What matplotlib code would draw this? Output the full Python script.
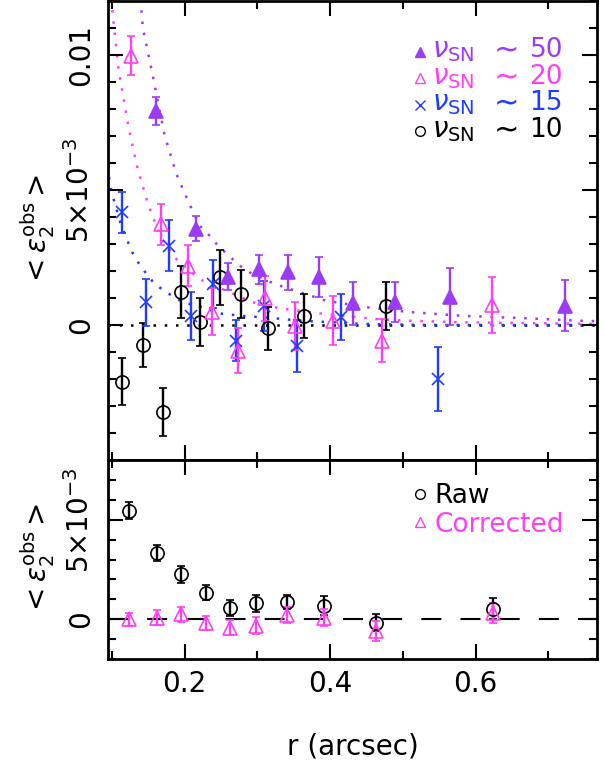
import matplotlib
matplotlib.use('Agg')
import matplotlib.pyplot as plt

plt.rcParams['font.family'] = ['DejaVu Sans']
plt.rcParams['mathtext.fontset'] = 'dejavusans'

PURPLE = '#9b3cf4'
MAGENTA = '#ff40f2'
BLUE = '#1f3cff'

# top panel, binned <e2> for four S/N cuts
r50 = [0.160, 0.216, 0.260, 0.302, 0.342, 0.384, 0.432, 0.489, 0.565, 0.723]
e50 = [0.00793, 0.00356, 0.00179, 0.00207, 0.00195, 0.00177, 0.00080, 0.00086, 0.00105, 0.00071]
err50 = [0.00052, 0.00046, 0.00049, 0.00054, 0.00065, 0.00074, 0.00079, 0.00075, 0.00105, 0.00094]

r20 = [0.126, 0.167, 0.204, 0.238, 0.273, 0.311, 0.352, 0.404, 0.472, 0.622]
e20 = [0.00997, 0.00374, 0.00220, 0.00049, -0.00095, 0.00099, -0.00002, 0.00016, -0.00058, 0.00074]
err20 = [0.00072, 0.00076, 0.00077, 0.00087, 0.00083, 0.00083, 0.00089, 0.00090, 0.00080, 0.00102]

r15 = [0.114, 0.147, 0.178, 0.208, 0.239, 0.271, 0.309, 0.354, 0.415, 0.549]
e15 = [0.00417, 0.00084, 0.00294, 0.00034, 0.00152, -0.00058, 0.00071, -0.00077, 0.00028, -0.00200]
err15 = [0.00076, 0.00086, 0.00095, 0.00089, 0.00089, 0.00075, 0.00093, 0.00096, 0.00085, 0.00117]

r10 = [0.114, 0.143, 0.170, 0.195, 0.221, 0.248, 0.278, 0.314, 0.364, 0.477]
e10 = [-0.00210, -0.00073, -0.00323, 0.00123, 0.00012, 0.00177, 0.00115, -0.00012, 0.00034, 0.00071]
err10 = [0.00088, 0.00082, 0.00088, 0.00096, 0.00088, 0.00102, 0.00088, 0.00080, 0.00082, 0.00088]

# model curves (dotted)
m50_r = [0.139, 0.1427, 0.1542, 0.1725, 0.1886, 0.2045, 0.2206, 0.2343, 0.2457, 0.2755, 0.2893,
         0.3236, 0.3946, 0.4495, 0.5091, 0.582, 0.66, 0.7424, 0.767]
m50_e = [0.01207, 0.01096, 0.00948, 0.00701, 0.00559, 0.0046, 0.00368, 0.00331, 0.00294, 0.0022, 0.00195,
         0.00152, 0.0009, 0.00066, 0.00048, 0.00034, 0.00026, 0.00016, 0.00014]
m20_r = [0.0985, 0.1007, 0.109, 0.1221, 0.1336, 0.1441, 0.1496, 0.168, 0.1886, 0.2092, 0.2251, 0.2938,
         0.3305, 0.3854, 0.4419, 0.4625, 0.509, 0.582, 0.674, 0.767]
m20_e = [0.0121, 0.01158, 0.00948, 0.00744, 0.00596, 0.00497, 0.00448, 0.00319, 0.00244, 0.00195, 0.00164,
         0.00084, 0.00062, 0.00043, 0.00028, 0.00022, 0.00016, 0.0001, 0.00007, 0.00004]
m15_r = [0.0945, 0.097, 0.1015, 0.112, 0.1268, 0.1359, 0.1474, 0.1588, 0.1749, 0.1977, 0.2251, 0.2466,
         0.2855, 0.3122, 0.358, 0.4037, 0.444, 0.536, 0.767]
m15_e = [0.0059, 0.00522, 0.00473, 0.00374, 0.00275, 0.00232, 0.00189, 0.00152, 0.00121, 0.00084, 0.00066,
         0.00043, 0.00032, 0.00028, 0.00016, 0.0001, 0.00004, 0.0, 0.0]

# bottom panel, raw vs corrected
rb = [0.1235, 0.162, 0.1955, 0.2288, 0.2628, 0.2985, 0.3405, 0.391, 0.4633, 0.6235]
raw = [0.00545, 0.00333, 0.00225, 0.00133, 0.00058, 0.00080, 0.00087, 0.00067, -0.00017, 0.00053]
raw_err = [0.00043, 0.00042, 0.00043, 0.00039, 0.00040, 0.00043, 0.00036, 0.00048, 0.00042, 0.00054]
corr = [0.0, 0.00008, 0.00025, -0.00017, -0.00042, -0.00033, 0.00020, 0.00008, -0.00058, 0.00033]
corr_err = [0.00032, 0.00039, 0.00037, 0.00035, 0.00036, 0.00042, 0.00039, 0.00042, 0.00050, 0.00050]

fig = plt.figure(figsize=(6.05, 7.63), dpi=100)
ax1 = fig.add_axes([0.1785, 0.3971, 0.8083, 0.6016])
ax2 = fig.add_axes([0.1785, 0.1363, 0.8083, 0.2608])

dots = (0, (1, 3.5))
eb = dict(linestyle='none', capsize=3, elinewidth=1.7, capthick=1.7)

ax1.axhline(0, color='black', lw=1.8, ls=dots, zorder=1)
ax1.plot(m15_r, m15_e, color=BLUE, lw=1.8, ls=dots, zorder=1)
ax1.plot(m20_r, m20_e, color=MAGENTA, lw=1.8, ls=dots, zorder=1)
ax1.plot(m50_r, m50_e, color=PURPLE, lw=1.8, ls=dots, zorder=1)

ax1.errorbar(r10, e10, yerr=err10, color='black', marker='o', ms=9.5, mfc='none', mew=1.2, **eb)
ax1.errorbar(r15, e15, yerr=err15, color=BLUE, marker='x', ms=8, mew=1.2, **eb)
ax1.errorbar(r20, e20, yerr=err20, color=MAGENTA, marker='^', ms=10, mfc='none', mew=1.2, **eb)
ax1.errorbar(r50, e50, yerr=err50, color=PURPLE, marker='^', ms=9.5, mew=1.2, **eb)

ax1.set_xlim(0.0945, 0.767)
ax1.set_ylim(-0.005, 0.012)

# hand-made legend, top panel
rows = [(PURPLE, '^', PURPLE, '50'), (MAGENTA, '^', 'none', '20'),
        (BLUE, 'x', None, '15'), ('black', 'o', 'none', '10')]
for i, (c, m, fc, num) in enumerate(rows):
    yb = 1 - (56.5 + 26.5 * i) / 459
    ax1.plot([0.638], [yb + 0.012], transform=ax1.transAxes, color=c, marker=m, ms=7,
             mfc=fc if fc else c, mew=1.0, ls='none', clip_on=False)
    ax1.text(0.663, yb, r'$\nu_{\rm SN}$', color=c, fontsize=20, transform=ax1.transAxes,
             ha='left', va='baseline')
    ax1.text(0.778, yb + 0.019, r'$\sim$', color=c, fontsize=22, transform=ax1.transAxes,
             ha='left', va='center')
    ax1.text(0.862, yb, num, color=c, fontsize=19, transform=ax1.transAxes,
             ha='left', va='baseline')

ax2.axhline(0, color='black', lw=1.5, ls=(0, (9.6, 9.2)), zorder=1)
ax2.errorbar(rb, raw, yerr=raw_err, color='black', marker='o', ms=9.5, mfc='none', mew=1.2, **eb)
ax2.errorbar(rb, corr, yerr=corr_err, color=MAGENTA, marker='^', ms=10, mfc='none', mew=1.2, **eb)
ax2.set_xlim(0.0945, 0.767)
ax2.set_ylim(-0.002, 0.008)

ax2.plot([0.638], [1 - 34 / 199], transform=ax2.transAxes, color='black', marker='o', ms=7,
         mfc='none', mew=1.0, ls='none')
ax2.text(0.667, 1 - 43 / 199, 'Raw', color='black', fontsize=19, transform=ax2.transAxes,
         ha='left', va='baseline')
ax2.plot([0.638], [1 - 62 / 199], transform=ax2.transAxes, color=MAGENTA, marker='^', ms=7,
         mfc='none', mew=1.0, ls='none')
ax2.text(0.667, 1 - 71.5 / 199, 'Corrected', color=MAGENTA, fontsize=19, transform=ax2.transAxes,
         ha='left', va='baseline')

minor_x = [0.1, 0.3, 0.5, 0.7]
for ax in (ax1, ax2):
    for s in ax.spines.values():
        s.set_linewidth(2.0)
    ax.set_xticks([0.2, 0.4, 0.6])
    ax.set_xticks(minor_x, minor=True)
    ax.tick_params(which='both', direction='in', top=True, right=True, width=1.5)
    ax.tick_params(which='major', length=11)
    ax.tick_params(which='minor', length=6)
    ax.tick_params(axis='y', pad=9, labelsize=20)
    ax.tick_params(axis='x', pad=8, labelsize=20)

ax1.set_xticklabels([])
ax2.set_xticklabels(['0.2', '0.4', '0.6'])

ax1.set_yticks([0, 0.005, 0.01], ['0', r'$5{\times}10^{-3}$', '0.01'])
ax1.set_yticks([v / 1000 for v in range(-5, 13)], minor=True)
ax2.set_yticks([0, 0.005], ['0', r'$5{\times}10^{-3}$'])
ax2.set_yticks([v / 1000 for v in range(-2, 9)], minor=True)

for ax in (ax1, ax2):
    for lbl in ax.get_yticklabels():
        lbl.set_rotation(90)
        lbl.set_va('center')
        lbl.set_ha('right')

ylab = r'$<\epsilon_2^{\rm obs}>$'
ax1.set_ylabel(ylab, fontsize=20)
ax1.yaxis.set_label_coords(-0.105, 0.5)
ax2.set_ylabel(ylab, fontsize=20)
ax2.yaxis.set_label_coords(-0.105, 0.5)

ax2.set_xlabel('r (arcsec)', fontsize=20)
ax2.xaxis.set_label_coords(0.5, -0.37)

fig.savefig('out.png', dpi=100)
